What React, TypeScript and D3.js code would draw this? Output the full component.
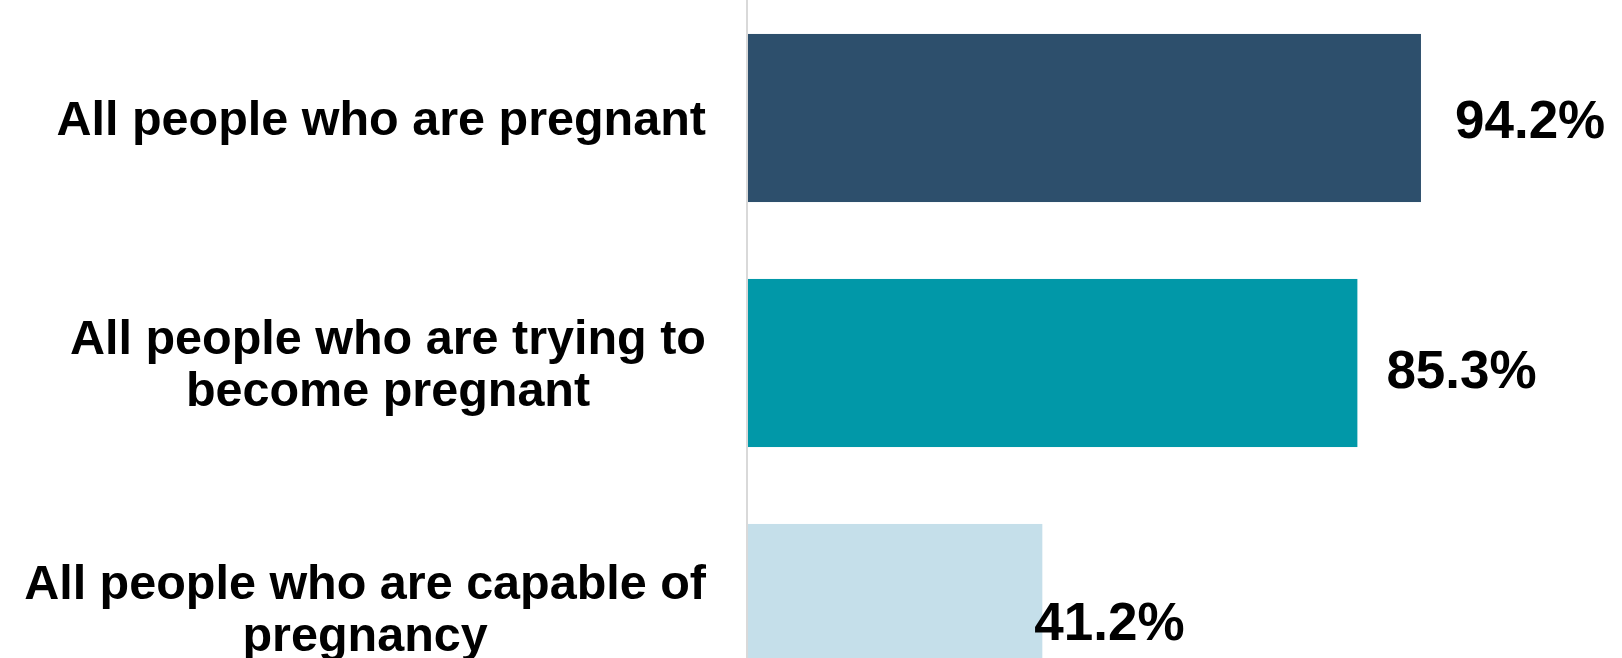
import React from "react";
import * as d3 from "d3";

const categories = [
  "All people who are pregnant",
  "All people who are trying to become pregnant",
  "All people who are capable of pregnancy",
];
const categoryLines = [
  ["All people who are pregnant"],
  ["All people who are trying to", "become pregnant"],
  ["All people who are capable of", "pregnancy"],
];
const values = [94.2, 85.3, 41.2];
const barColors = ["#2D4F6C", "#0198A8", "#C5DFEA"];
// manual label nudges (px) relative to bar end / bar centre
const labelNudgeX = [34, 29, -8];
const labelNudgeY = [1, 6, 13];

const W = 1622;
const H = 658;
const FONT = "'Liberation Sans', Arial, sans-serif";
const CAT_SIZE = 48.5;
const VAL_SIZE = 53;
const LINE_H = 52;

function measure(text: string, size: number): number {
  const c = document.createElement("canvas");
  const ctx = c.getContext("2d")!;
  ctx.font = `bold ${size}px ${FONT}`;
  return ctx.measureText(text).width;
}

export default function App() {
  const x = d3.scaleLinear().domain([0, 100]).range([748, 1462.4]);
  const y = d3
    .scaleBand<string>()
    .domain(categories)
    .range([-4.5, 730.5])
    .paddingInner(0.314)
    .paddingOuter(0.157);
  const labelRight = 706;
  const capHalf = CAT_SIZE * 0.716 / 2;
  const valCapHalf = VAL_SIZE * 0.716 / 2;

  return (
    <svg
      width={W}
      height={H}
      style={{ position: "absolute", left: 0, top: 0, display: "block", background: "#fff" }}
    >
      {categories.map((c, i) => {
        const by = y(c)!;
        const bh = y.bandwidth();
        const cy = by + bh / 2;
        const lines = categoryLines[i];
        const maxW = Math.max(...lines.map((l) => measure(l, CAT_SIZE)));
        const cx = labelRight - maxW / 2;
        const firstBase = cy + capHalf - ((lines.length - 1) * LINE_H) / 2;
        return (
          <g key={c}>
            <rect x={x(0)} y={by} width={x(values[i]) - x(0)} height={bh} fill={barColors[i]} />
            <text
              fontFamily={FONT}
              fontWeight="bold"
              fontSize={CAT_SIZE}
              textAnchor="middle"
              fill="#000"
            >
              {lines.map((l, j) => (
                <tspan key={j} x={cx} y={firstBase + j * LINE_H}>
                  {l}
                </tspan>
              ))}
            </text>
            <text
              x={x(values[i]) + labelNudgeX[i]}
              y={cy + valCapHalf + labelNudgeY[i]}
              fontFamily={FONT}
              fontWeight="bold"
              fontSize={VAL_SIZE}
              fill="#000"
            >
              {values[i].toFixed(1) + "%"}
            </text>
          </g>
        );
      })}
      <line x1={747} x2={747} y1={0} y2={H} stroke="#D9D9D9" strokeWidth={2} />
    </svg>
  );
}
